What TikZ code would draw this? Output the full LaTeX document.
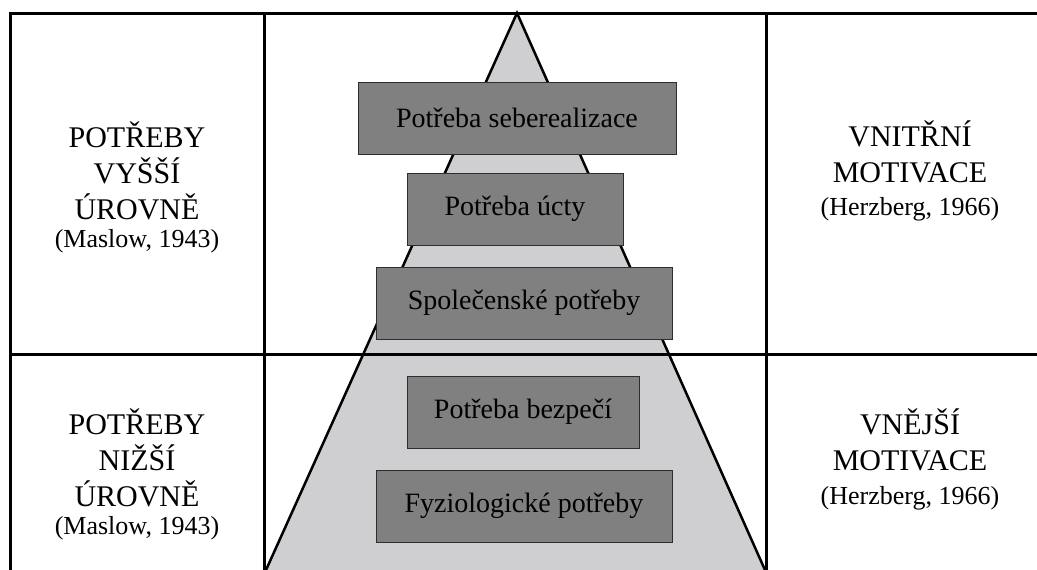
\documentclass[tikz,border=0pt]{standalone}
\usepackage{fontspec}
\setmainfont{Liberation Serif}
\definecolor{boxgray}{RGB}{128,128,128}
\definecolor{pyrgray}{RGB}{207,206,209}
\definecolor{edgegray}{RGB}{45,45,45}
\newcommand{\refsize}{\fontsize{26}{30}\selectfont}

\begin{document}
\begin{tikzpicture}[
    x=1pt, y=-1pt,
    every node/.style={font=\fontsize{28}{36}\selectfont, inner sep=0pt},
    tier/.style={draw=edgegray, line width=1pt, fill=boxgray, minimum height=72},
    sidetext/.style={align=center, font=\fontsize{30}{36}\selectfont},
    rule/.style={line width=3pt}
]
\useasboundingbox (0,0) rectangle (1037,570);

% pyramid
\coordinate (apex) at (517,13);
\coordinate (baseL) at (266,570);
\coordinate (baseR) at (765,570);
\fill[pyrgray] (apex) -- (baseL) -- (baseR) -- cycle;
\draw[line width=2.5pt] (baseL) -- (apex) -- (baseR);

% levels of needs
\node[tier, minimum width=318] (self) at (517,118) {Potřeba seberealizace};
\node[tier, minimum width=216] (esteem) at (515,209) {Potřeba úcty};
\node[tier, minimum width=296] (social) at (524,303) {Společenské potřeby};
\node[tier, minimum width=232] (safety) at (523,412) {Potřeba bezpečí};
\node[tier, minimum width=296] (physio) at (524,506) {Fyziologické potřeby};

% table
\draw[rule] (1037,13) -- (10,13) -- (10,570);
\draw[rule] (264,13) -- (264,570);
\draw[rule] (766,13) -- (766,570);
\draw[rule] (10,354) -- (1037,354);

% side texts
\node[sidetext] (higher) at (137,187) {POTŘEBY\\VYŠŠÍ\\ÚROVNĚ\\[-8pt]{\refsize(Maslow, 1943)}};
\node[sidetext] (lower) at (137,474) {POTŘEBY\\NIŽŠÍ\\ÚROVNĚ\\[-8pt]{\refsize(Maslow, 1943)}};
\node[sidetext] (intr) at (910,171) {VNITŘNÍ\\MOTIVACE\\[-3pt]{\refsize(Herzberg, 1966)}};
\node[sidetext] (extr) at (910,459) {VNĚJŠÍ\\MOTIVACE\\[-2pt]{\refsize(Herzberg, 1966)}};
\end{tikzpicture}
\end{document}
